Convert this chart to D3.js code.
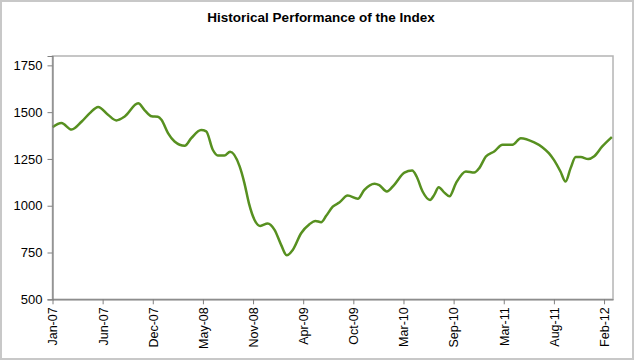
<!DOCTYPE html>
<html>
<head>
<meta charset="utf-8">
<script src="https://cdn.jsdelivr.net/npm/d3@7/dist/d3.min.js"></script>
<style>
  html, body { margin: 0; padding: 0; background: #fff; }
  svg { display: block; }
  text { font-family: "Liberation Sans", Arial, sans-serif; fill: #000; }
</style>
</head>
<body>
<script>
const title = "Historical Performance of the Index";

const dates = [
  "2007-01-10","2007-02-09","2007-03-15","2007-04-18","2007-05-15","2007-06-12","2007-07-15","2007-08-12",
  "2007-09-09","2007-10-24","2007-11-15","2007-12-08","2007-12-29","2008-01-10","2008-02-01","2008-02-23",
  "2008-03-28","2008-04-19","2008-05-22","2008-06-08","2008-06-30","2008-07-17","2008-08-08","2008-08-27",
  "2008-09-28","2008-10-14","2008-10-29","2008-11-17","2008-12-06","2008-12-31","2009-01-23","2009-02-14",
  "2009-03-05","2009-03-25","2009-04-22","2009-05-20","2009-06-09","2009-06-28","2009-07-15","2009-08-06",
  "2009-08-28","2009-09-25","2009-10-29","2009-11-20","2009-12-24","2010-01-09","2010-02-03","2010-02-28",
  "2010-04-03","2010-04-29","2010-05-14","2010-06-03","2010-06-28","2010-07-12","2010-07-27","2010-08-15",
  "2010-09-01","2010-09-23","2010-10-26","2010-11-23","2010-12-10","2011-01-01","2011-01-29","2011-02-26",
  "2011-03-31","2011-04-28","2011-06-12","2011-07-09","2011-07-31","2011-08-17","2011-09-08","2011-09-25",
  "2011-10-12","2011-10-29","2011-11-15","2011-12-10","2011-12-29","2012-01-26","2012-02-27"
];
const values = [
  1420, 1442, 1407, 1450, 1495, 1528, 1486, 1456,
  1477, 1547, 1510, 1478, 1475, 1459, 1388, 1343,
  1320, 1361, 1404, 1397, 1299, 1268, 1268, 1288,
  1210, 1121, 1014, 924, 892, 905, 871, 791,
  735, 764, 853, 901, 919, 912, 946, 995,
  1017, 1054, 1037, 1085, 1118, 1110, 1076, 1112,
  1177, 1188, 1156, 1076, 1031, 1058, 1099, 1070,
  1050, 1121, 1183, 1177, 1201, 1263, 1290, 1326,
  1326, 1361, 1338, 1313, 1281, 1245, 1183, 1129,
  1201, 1260, 1260, 1249, 1263, 1317, 1367
];
const xTickDates = [
  "2007-01-10","2007-06-27","2007-12-12","2008-05-28","2008-11-12","2009-04-29",
  "2009-10-14","2010-03-31","2010-09-15","2011-03-02","2011-08-17","2012-02-01"
];
const xDomain = ["2007-01-10", "2012-03-02"];
const yTicks = [500, 750, 1000, 1250, 1500, 1750];
const yDomain = [500, 1800];

const W = 634, H = 360;
const m = { left: 52.5, top: 56, right: 613, bottom: 299.3 };
const parse = d3.utcParse("%Y-%m-%d");
const fmt = d3.utcFormat("%b-%y");

const data = dates.map((d, i) => ({ date: parse(d), value: values[i] }));

const x = d3.scaleUtc().domain(xDomain.map(parse)).range([m.left, m.right]);
const y = d3.scaleLinear().domain(yDomain).range([m.bottom, m.top]);

const svg = d3.select("body").append("svg").attr("width", W).attr("height", H);

// outer chart border
svg.append("rect").attr("x", 1).attr("y", 1).attr("width", W - 2).attr("height", H - 2)
  .attr("fill", "#fff").attr("stroke", "#c8c8c8").attr("stroke-width", 2);

// title
svg.append("text").attr("x", 321).attr("y", 22).attr("text-anchor", "middle")
  .style("font-size", "13.5px").style("font-weight", "bold").text(title);

// plot frame (top / right)
svg.append("rect").attr("x", m.left).attr("y", m.top)
  .attr("width", m.right - m.left).attr("height", m.bottom - m.top)
  .attr("fill", "none").attr("stroke", "#b4b4b4").attr("stroke-width", 1.5);

// line
svg.append("path").datum(data)
  .attr("fill", "none").attr("stroke", "#579020").attr("stroke-width", 2.5)
  .attr("stroke-linejoin", "round")
  .attr("d", d3.line().x(d => x(d.date)).y(d => y(d.value)).curve(d3.curveMonotoneX));

// y axis
const yAxis = svg.append("g").attr("transform", `translate(${m.left},0)`)
  .call(d3.axisLeft(y).tickValues(yTicks).tickSize(5).tickPadding(5).tickFormat(d3.format("d")));
yAxis.select(".domain").attr("stroke", "#808080").attr("stroke-width", 1.2);
yAxis.selectAll(".tick line").attr("stroke", "#808080");
yAxis.selectAll(".tick text").style("font-size", "13px").style("font-family", "Liberation Sans, Arial, sans-serif").attr("fill", "#000");

// x axis
const xAxis = svg.append("g").attr("transform", `translate(0,${m.bottom})`)
  .call(d3.axisBottom(x).tickValues(xTickDates.map(parse)).tickSize(5).tickSizeOuter(0).tickFormat(fmt));
xAxis.select(".domain").attr("stroke", "#808080").attr("stroke-width", 1.2);
xAxis.selectAll(".tick line").attr("stroke", "#808080");
xAxis.selectAll(".tick text")
  .style("font-size", "12.5px").style("font-family", "Liberation Sans, Arial, sans-serif").attr("fill", "#000")
  .attr("text-anchor", "end").attr("dy", "0.35em")
  .attr("transform", "translate(0,8) rotate(-90)")
  .attr("x", 0).attr("y", 0);
</script>
</body>
</html>
